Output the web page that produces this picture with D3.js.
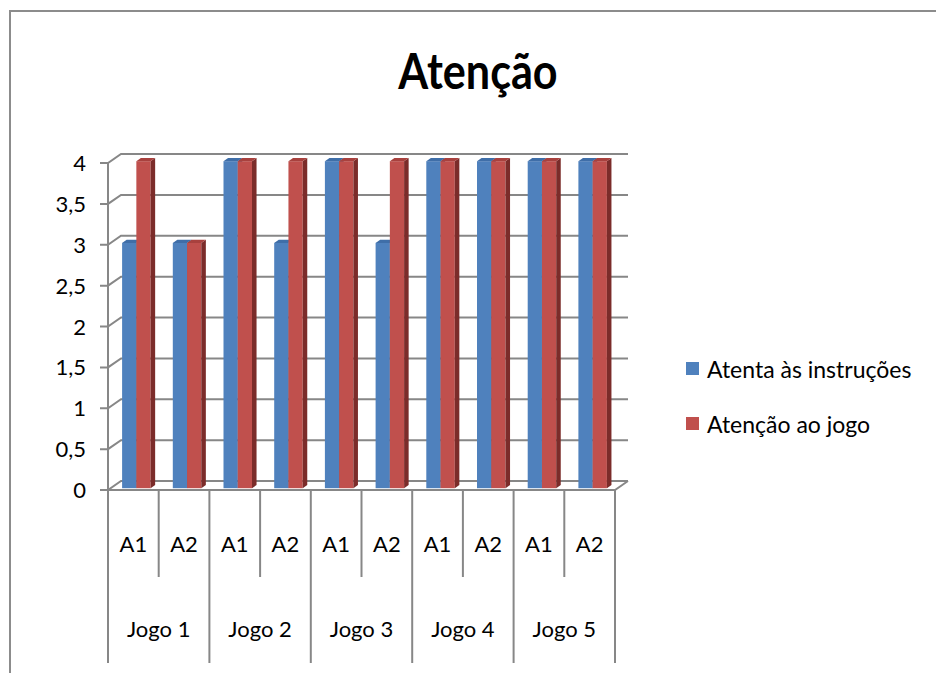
<!DOCTYPE html>
<html>
<head>
<meta charset="utf-8">
<script src="https://cdn.jsdelivr.net/npm/d3@7"></script>
<style>
  body { margin: 0; background: #fff; }
  text { font-family: Lato, "Open Sans", sans-serif; fill: #000; }
</style>
</head>
<body>
<script>
// chart data
const groups = ["Jogo 1", "Jogo 2", "Jogo 3", "Jogo 4", "Jogo 5"];
const subs = ["A1", "A2"];
const seriesNames = ["Atenta às instruções", "Atenção ao jogo"];
const instrucoes = [3, 3, 4, 3, 4, 3, 4, 4, 4, 4];
const jogo = [4, 3, 4, 4, 4, 4, 4, 4, 4, 4];
const yTicks = [0, 0.5, 1, 1.5, 2, 2.5, 3, 3.5, 4];

const W = 936, H = 673;
const colors = ["#4F81BD", "#C0504D"];
const topColors = ["#3F6EA8", "#A8413E"];
const sideColors = ["#35598A", "#7B2C2A"];

// 3d depth offsets (back wall relative to front plane)
const DX = 13, DY = -9;
const barFront = 0.2, barBack = 0.55;

const svg = d3.select("body").append("svg")
    .attr("width", W)
    .attr("height", H);

// chart frame
svg.append("rect")
    .attr("x", 10).attr("y", 11)
    .attr("width", 1000).attr("height", 800)
    .attr("fill", "none")
    .attr("stroke", "#8c8c8c")
    .attr("stroke-width", 2);

svg.append("text")
    .attr("transform", "translate(478,89) scale(0.88,1)")
    .attr("text-anchor", "middle")
    .style("font-size", "49px")
    .style("font-weight", "bold")
    .text("Atenção");

const keys = [];
groups.forEach(g => subs.forEach(s => keys.push(g + "|" + s)));

const x = d3.scaleBand().domain(keys).range([108, 615]);
const y = d3.scaleLinear().domain([0, 4]).range([490, 163]);
const inner = d3.scaleBand().domain(d3.range(seriesNames.length)).range([11.5, 40]);

const grid = svg.append("g")
    .attr("stroke", "#878787")
    .attr("stroke-width", 2)
    .attr("fill", "none");

// side wall diagonals + back wall gridlines
yTicks.forEach(t => {
    const yf = y(t);
    grid.append("path")
        .attr("d", `M100,${yf}L108,${yf}L${108 + DX},${yf + DY}L${615 + DX},${yf + DY}`);
});

// floor edges and y axis
grid.append("path").attr("d", `M108,${y(4)}L108,${y(0)}L615,${y(0)}L${615 + DX},${y(0) + DY}`);

// category separators under the floor
keys.forEach((k, i) => {
    const xv = x(k);
    const long = i % 2 === 0;
    grid.append("line")
        .attr("x1", xv).attr("x2", xv)
        .attr("y1", y(0)).attr("y2", long ? 663 : 577);
});
grid.append("line")
    .attr("x1", x.range()[1]).attr("x2", x.range()[1])
    .attr("y1", y(0)).attr("y2", 663);

// y labels
svg.append("g").selectAll("text")
    .data(yTicks)
    .join("text")
    .attr("x", 86)
    .attr("y", d => y(d) + 8)
    .attr("text-anchor", "end")
    .style("font-size", "22px")
    .text(d => String(d).replace(".", ","));

// bars
const series = [instrucoes, jogo];
const bars = svg.append("g");
const dxF = DX * barFront, dyF = DY * barFront;
const dxB = DX * (barBack - barFront), dyB = DY * (barBack - barFront);

keys.forEach((k, i) => {
    series.forEach((vals, s) => {
        const x0 = x(k) + inner(s) + dxF;
        const x1 = x0 + inner.bandwidth();
        const yt = y(vals[i]) + dyF;
        const yb = y(0) + dyF;
        const g = bars.append("g");
        g.append("rect")
            .attr("x", x0).attr("y", yt)
            .attr("width", x1 - x0).attr("height", yb - yt)
            .attr("fill", colors[s]);
        g.append("path")
            .attr("d", `M${x1},${yt}L${x1 + dxB},${yt + dyB}L${x1 + dxB},${yb + dyB}L${x1},${yb}Z`)
            .attr("fill", sideColors[s]);
        g.append("path")
            .attr("d", `M${x0},${yt}L${x1},${yt}L${x1 + dxB},${yt + dyB}L${x0 + dxB},${yt + dyB}Z`)
            .attr("fill", topColors[s]);
    });
});

// x labels
svg.append("g").selectAll("text")
    .data(keys)
    .join("text")
    .attr("x", d => x(d) + x.bandwidth() / 2)
    .attr("y", 552)
    .attr("text-anchor", "middle")
    .style("font-size", "22px")
    .text(d => d.split("|")[1]);

svg.append("g").selectAll("text")
    .data(groups)
    .join("text")
    .attr("x", g => x(g + "|A1") + x.bandwidth())
    .attr("y", 637)
    .attr("text-anchor", "middle")
    .style("font-size", "22px")
    .text(g => g);

// legend
const legend = svg.append("g");
seriesNames.forEach((n, i) => {
    legend.append("rect")
        .attr("x", 686).attr("y", 362 + i * 55)
        .attr("width", 13).attr("height", 13)
        .attr("fill", colors[i]);
    legend.append("text")
        .attr("x", 707).attr("y", 378 + i * 55)
        .style("font-size", "23px")
        .text(n);
});
</script>
</body>
</html>
